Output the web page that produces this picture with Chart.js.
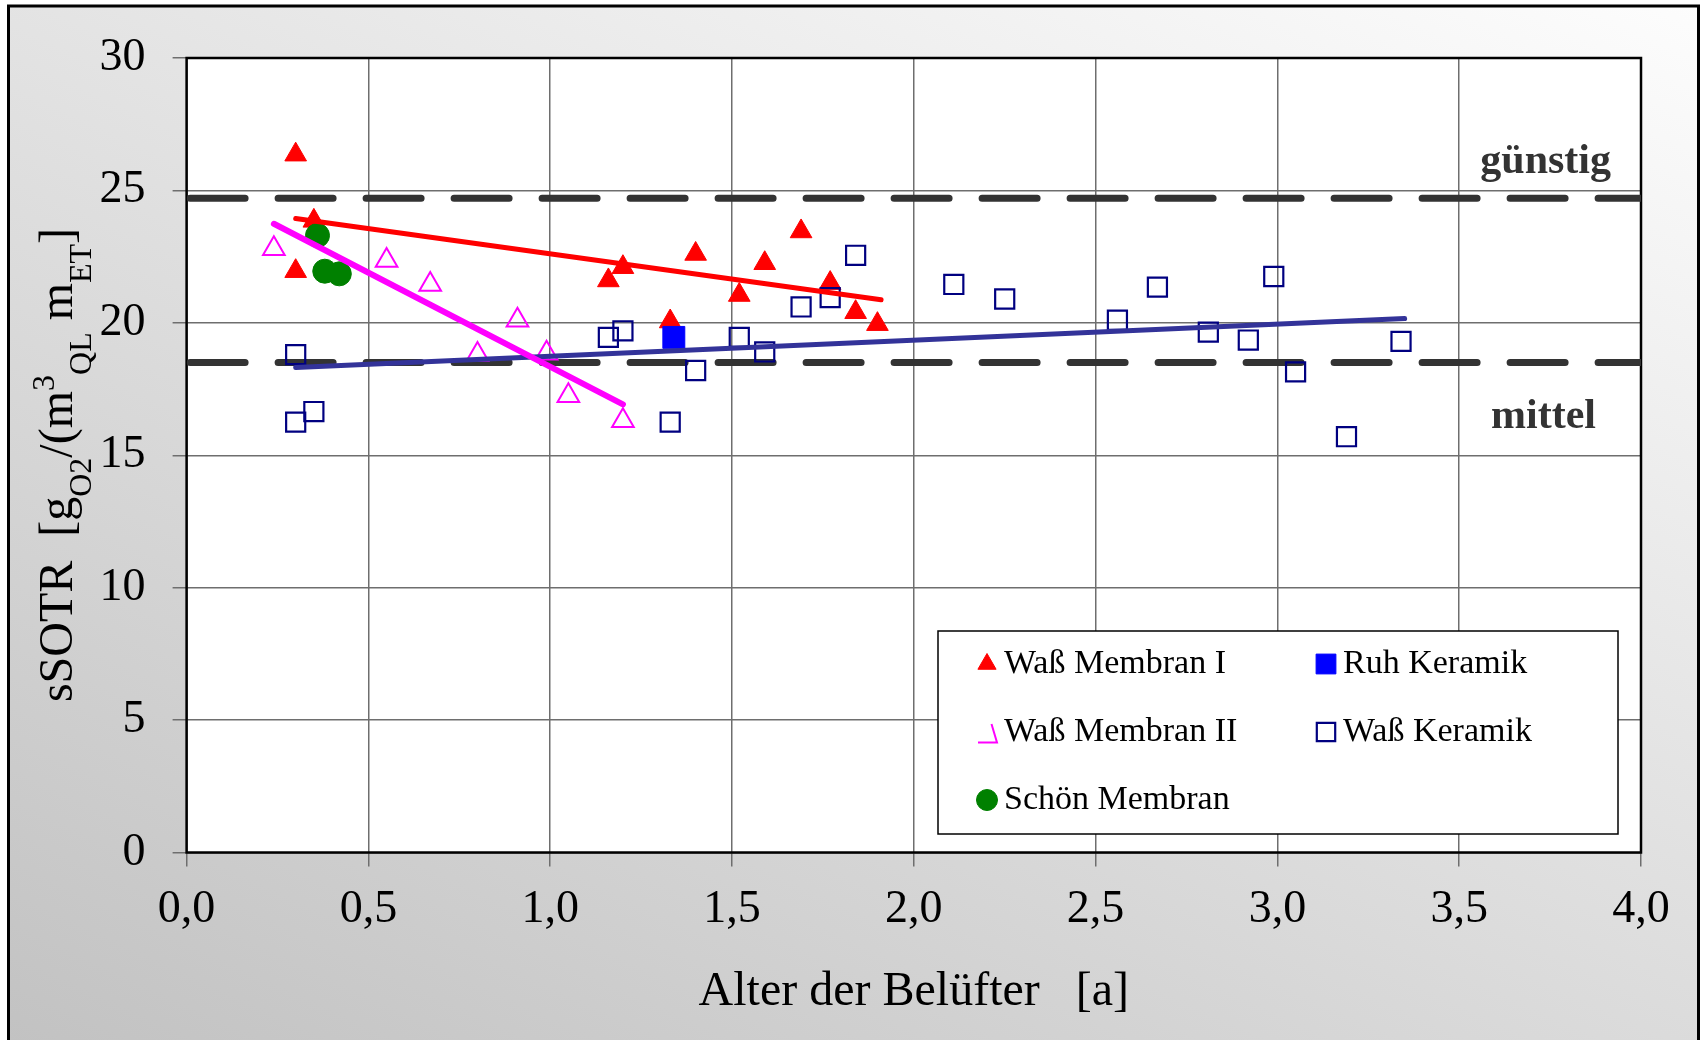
<!DOCTYPE html>
<html>
<head>
<meta charset="utf-8">
<title>sSOTR - Alter der Belüfter</title>
<script src="https://cdn.jsdelivr.net/npm/chart.js@4.4.0/dist/chart.umd.min.js"></script>
<style>
    html, body { margin: 0; padding: 0; background: #fff; }
    #wrap { width: 1703px; height: 1040px; position: relative; }
</style>
</head>
<body>
<div id="wrap"><canvas id="chart"></canvas></div>
<script>
// Messwerte (Alter [a] / sSOTR)
const membranIX  = [0.30, 0.35, 0.30, 1.16, 1.20, 1.40, 1.33, 1.52, 1.59, 1.69, 1.77, 1.84, 1.90];
const membranIY  = [26.35, 23.85, 21.95, 21.6, 22.1, 22.6, 20.05, 21.05, 22.25, 23.45, 21.5, 20.4, 19.95];
const membranIIX = [0.24, 0.55, 0.67, 0.80, 0.91, 0.99, 1.05, 1.20];
const membranIIY = [22.8, 22.35, 21.45, 18.8, 20.1, 18.85, 17.25, 16.3];
const schoenX    = [0.36, 0.38, 0.42];
const schoenY    = [23.3, 21.95, 21.85];
const ruhX       = [1.34];
const ruhY       = [19.45];
const keramikX   = [0.30, 0.35, 0.30, 1.16, 1.20, 1.33, 1.40, 1.52, 1.59, 1.69, 1.77, 1.84,
                    2.11, 2.25, 2.56, 2.67, 2.81, 2.92, 2.99, 3.05, 3.19, 3.34];
const keramikY   = [18.8, 16.65, 16.25, 19.45, 19.7, 16.25, 18.2, 19.45, 18.9, 20.6, 20.95, 22.55,
                    21.45, 20.9, 20.1, 21.35, 19.65, 19.35, 21.75, 18.15, 15.7, 19.3];

// Trendlinien (Endpunkte aus dem Bild)
const trendIX = [0.30, 1.91],  trendIY = [23.94, 20.87];
const trendIIX = [0.24, 1.20], trendIIY = [23.74, 16.92];
const trendKX = [0.30, 3.35],  trendKY = [18.31, 20.16];

// Grenzlinien
const guenstigY = 24.7;
const mittelY = 18.5;

const xTickValues = [0, 0.5, 1, 1.5, 2, 2.5, 3, 3.5, 4];
const xTickLabels = ['0,0', '0,5', '1,0', '1,5', '2,0', '2,5', '3,0', '3,5', '4,0'];
const yTickValues = [0, 5, 10, 15, 20, 25, 30];

const SERIF = "'Liberation Serif', 'Times New Roman', serif";

const pts = (xs, ys) => xs.map((x, i) => ({ x: x, y: ys[i] }));

// Hintergrund, Rahmen, Zeichenfläche
const backgroundPlugin = {
    id: 'background',
    beforeDraw(chart) {
        const { ctx, width, height, chartArea: ca } = chart;
        ctx.save();
        ctx.fillStyle = '#ffffff';
        ctx.fillRect(0, 0, width, height);
        const g = ctx.createLinearGradient(0, height, 697, -466);
        g.addColorStop(0, '#c2c2c2');
        g.addColorStop(1, '#fdfdfd');
        ctx.fillStyle = g;
        ctx.fillRect(8.5, 6, 1690, height);
        ctx.strokeStyle = '#000';
        ctx.lineWidth = 3;
        ctx.strokeRect(8.5, 6, 1690, height + 20);
        ctx.fillStyle = '#ffffff';
        ctx.fillRect(ca.left, ca.top, ca.right - ca.left, ca.bottom - ca.top);
        ctx.restore();
    },
    beforeDatasetsDraw(chart) {
        const { ctx, chartArea: ca, scales } = chart;
        ctx.save();
        ctx.strokeStyle = '#000';
        ctx.lineWidth = 2.5;
        ctx.strokeRect(ca.left, ca.top, ca.right - ca.left, ca.bottom - ca.top);
        ctx.fillStyle = '#333333';
        ctx.font = 'bold 42px ' + SERIF;
        ctx.textAlign = 'right';
        ctx.textBaseline = 'alphabetic';
        ctx.fillText('günstig', ca.right - 30, scales.y.getPixelForValue(guenstigY) - 25);
        ctx.fillText('mittel', ca.right - 45, scales.y.getPixelForValue(mittelY) + 65);
        ctx.restore();
    }
};

// y-Achsentitel mit Tief- und Hochstellungen
const yTitleParts = [
    ['sSOTR  [g', 0], ['O2', 1], ['/(m', 0], ['3', 2], ['QL', 1], [' m', 0], ['ET', 1], [']', 0]
];
const yTitlePlugin = {
    id: 'yTitle',
    afterDraw(chart) {
        const ctx = chart.ctx;
        const fonts = ['48px ' + SERIF, '32px ' + SERIF, '32px ' + SERIF];
        const shift = [0, 19, -18];
        ctx.save();
        let total = 0;
        const widths = yTitleParts.map(p => {
            ctx.font = fonts[p[1]];
            const w = ctx.measureText(p[0]).width;
            total += w;
            return w;
        });
        ctx.translate(72, 465);
        ctx.rotate(-Math.PI / 2);
        ctx.fillStyle = '#000';
        ctx.textAlign = 'left';
        ctx.textBaseline = 'alphabetic';
        let x = -total / 2;
        yTitleParts.forEach((p, i) => {
            ctx.font = fonts[p[1]];
            ctx.fillText(p[0], x, shift[p[1]]);
            x += widths[i];
        });
        ctx.restore();
    }
};

// Legende im Diagramm
const legendRows = [
    ['Waß Membran I', 'membranI', 0, 0],
    ['Ruh Keramik', 'ruh', 1, 0],
    ['Waß Membran II', 'membranII', 0, 1],
    ['Waß Keramik', 'keramik', 1, 1],
    ['Schön Membran', 'schoen', 0, 2]
];
const legendPlugin = {
    id: 'boxLegend',
    afterDraw(chart) {
        const { ctx, chartArea: ca } = chart;
        const left = ca.right - 703, top = ca.bottom - 221.5;
        ctx.save();
        ctx.fillStyle = '#fff';
        ctx.fillRect(left, top, 680, 203);
        ctx.strokeStyle = '#000';
        ctx.lineWidth = 1.5;
        ctx.strokeRect(left, top, 680, 203);
        ctx.font = '34px ' + SERIF;
        ctx.textBaseline = 'middle';
        ctx.textAlign = 'left';
        legendRows.forEach(([label, key, col, row]) => {
            const mx = left + (col ? 388 : 49);
            const my = top + 33 + row * 68;
            const ds = chart.data.datasets.find(d => d.key === key);
            ctx.fillStyle = ds.backgroundColor;
            ctx.strokeStyle = ds.borderColor;
            ctx.lineWidth = ds.borderWidth;
            if (key === 'membranII') {
                ctx.beginPath();
                ctx.moveTo(mx + 4.5, my - 8);
                ctx.lineTo(mx + 10, my + 10.5);
                ctx.lineTo(mx - 9, my + 10.5);
                ctx.stroke();
            } else {
                const r = { membranI: 10.5, ruh: 14, keramik: 13, schoen: 10.5 }[key];
                Chart.helpers.drawPoint(ctx, {
                    pointStyle: ds.pointStyle, radius: r, rotation: 0, borderWidth: ds.borderWidth
                }, mx, my);
            }
            ctx.fillStyle = '#000';
            ctx.fillText(label, mx + 17, my);
        });
        ctx.restore();
    }
};

const markerBase = { showLine: false, order: 1, pointHoverRadius: 0 };
const lineBase = { showLine: true, pointRadius: 0, pointHoverRadius: 0, fill: false,
                   borderCapStyle: 'round', order: 0 };
const limitBase = { showLine: true, pointRadius: 0, pointHoverRadius: 0, fill: false,
                    borderColor: '#333333', borderWidth: 7, borderCapStyle: 'round',
                    borderDash: [55, 33], borderDashOffset: -3.5, clip: 0, order: 2 };

new Chart(document.getElementById('chart'), {
    type: 'scatter',
    data: {
        datasets: [
            Object.assign({}, markerBase, {
                key: 'schoen', label: 'Schön Membran', data: pts(schoenX, schoenY),
                pointStyle: 'circle', pointRadius: 12,
                backgroundColor: '#008000', borderColor: '#008000', borderWidth: 1
            }),
            Object.assign({}, markerBase, {
                key: 'ruh', label: 'Ruh Keramik', data: pts(ruhX, ruhY),
                pointStyle: 'rect', pointRadius: 15.5,
                backgroundColor: '#0000ff', borderColor: '#0000ff', borderWidth: 1
            }),
            Object.assign({}, markerBase, {
                key: 'keramik', label: 'Waß Keramik', data: pts(keramikX, keramikY),
                pointStyle: 'rect', pointRadius: 13.5,
                backgroundColor: 'rgba(0,0,0,0)', borderColor: '#000080', borderWidth: 2.2
            }),
            Object.assign({}, markerBase, {
                key: 'membranII', label: 'Waß Membran II', data: pts(membranIIX, membranIIY),
                pointStyle: 'triangle', pointRadius: 12.5,
                backgroundColor: 'rgba(0,0,0,0)', borderColor: '#ff00ff', borderWidth: 2
            }),
            Object.assign({}, markerBase, {
                key: 'membranI', label: 'Waß Membran I', data: pts(membranIX, membranIY),
                pointStyle: 'triangle', pointRadius: 12.5,
                backgroundColor: '#ff0000', borderColor: '#ff0000', borderWidth: 1
            }),
            Object.assign({}, lineBase, {
                key: 'trendI', data: pts(trendIX, trendIY), borderColor: '#ff0000', borderWidth: 5
            }),
            Object.assign({}, lineBase, {
                key: 'trendII', data: pts(trendIIX, trendIIY), borderColor: '#ff00ff', borderWidth: 6
            }),
            Object.assign({}, lineBase, {
                key: 'trendK', data: pts(trendKX, trendKY), borderColor: '#333399', borderWidth: 5
            }),
            Object.assign({}, limitBase, {
                key: 'guenstig', data: pts([0, 4], [guenstigY, guenstigY])
            }),
            Object.assign({}, limitBase, {
                key: 'mittel', data: pts([0, 4], [mittelY, mittelY])
            })
        ]
    },
    options: {
        responsive: true,
        maintainAspectRatio: false,
        animation: false,
        events: [],
        layout: { padding: { left: 0, top: 58, right: 62, bottom: 0 } },
        plugins: {
            legend: { display: false },
            tooltip: { enabled: false }
        },
        scales: {
            x: {
                type: 'linear',
                min: 0,
                max: 4,
                afterBuildTicks: s => { s.ticks = xTickValues.map(v => ({ value: v })); },
                afterFit: s => { s.height = 187.5; },
                ticks: {
                    autoSkip: false,
                    maxRotation: 0,
                    padding: 16,
                    color: '#000',
                    font: { family: SERIF, size: 46 },
                    callback: (v, i) => xTickLabels[i]
                },
                grid: { color: '#6e6e6e', lineWidth: 1.5, tickLength: 14, drawTicks: true },
                border: { display: false },
                title: {
                    display: true,
                    text: 'Alter der Belüfter   [a]',
                    color: '#000',
                    font: { family: SERIF, size: 48 },
                    padding: { top: 0, bottom: 19 }
                }
            },
            y: {
                type: 'linear',
                min: 0,
                max: 30,
                afterBuildTicks: s => { s.ticks = yTickValues.map(v => ({ value: v })); },
                afterFit: s => { s.width = 186.6; },
                ticks: {
                    padding: 27,
                    color: '#000',
                    font: { family: SERIF, size: 46 }
                },
                grid: { color: '#6e6e6e', lineWidth: 1.5, tickLength: 14, drawTicks: true },
                border: { display: false }
            }
        }
    },
    plugins: [backgroundPlugin, yTitlePlugin, legendPlugin]
});
</script>
</body>
</html>
